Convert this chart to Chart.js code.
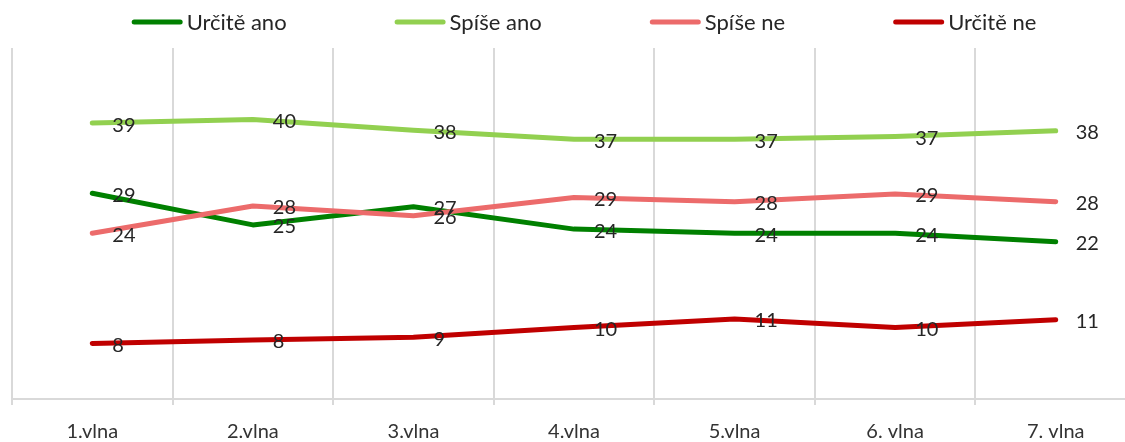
<!DOCTYPE html>
<html>
<head>
<meta charset="utf-8">
<script src="https://cdn.jsdelivr.net/npm/chart.js@4"></script>
<style>
  html, body { margin: 0; padding: 0; background: #fff; overflow: hidden; }
  /* canvas is a bit bigger than the window; excel crop cuts the last column */
  #wrap { position: relative; width: 1136px; height: 459px; }
</style>
</head>
<body>
<div id="wrap"><canvas id="chart"></canvas></div>
<script>
// ---------- Data ----------
const categories = ["1.vlna", "2.vlna", "3.vlna", "4.vlna", "5.vlna", "6. vlna", "7. vlna"];
const seriesNames = ["Určitě ano", "Spíše ano", "Spíše ne", "Určitě ne"];
const urciteAno = [29.3, 24.8, 27.4, 24.2, 23.6, 23.6, 22.4];
const spiseAno  = [39.3, 39.8, 38.3, 37.0, 37.0, 37.4, 38.2];
const spiseNe   = [23.6, 27.5, 26.1, 28.7, 28.1, 29.2, 28.1];
const urciteNe  = [7.9, 8.4, 8.8, 10.2, 11.4, 10.2, 11.3];
const colors = ["#008000", "#92d050", "#ec6b6b", "#c00000"];

const FONT = "Lato";

function makeSet(i, values) {
  return {
    label: seriesNames[i],
    data: values,
    borderColor: colors[i],
    backgroundColor: colors[i],
    borderWidth: 5,
    borderCapStyle: "round",
    borderJoinStyle: "round",
    pointRadius: 0,
    tension: 0,
    fill: false,
    order: 4 - i // later series on top, like excel
  };
}

// value labels right of every point
const valueLabels = {
  id: "valueLabels",
  afterDatasetsDraw(chart) {
    const ctx = chart.ctx;
    ctx.save();
    ctx.font = "20px " + FONT;
    ctx.fillStyle = "#262626";
    ctx.textAlign = "left";
    ctx.textBaseline = "middle";
    chart.data.datasets.forEach((ds, i) => {
      const meta = chart.getDatasetMeta(i);
      meta.data.forEach((pt, j) => {
        ctx.fillText(String(Math.round(ds.data[j])), pt.x + 20, pt.y + 2);
      });
    });
    ctx.restore();
  }
};

// excel-like legend: short thick line + text, wide gaps
const lineLegend = {
  id: "lineLegend",
  afterDraw(chart) {
    const ctx = chart.ctx;
    const lineLen = 51, textGap = 4, itemGap = 108;
    ctx.save();
    ctx.font = "22px " + FONT;
    ctx.textBaseline = "middle";
    ctx.textAlign = "left";
    const widths = chart.data.datasets.map(ds => ctx.measureText(ds.label).width);
    let total = 0;
    widths.forEach((w, i) => {
      total += lineLen + textGap + w + (i < widths.length - 1 ? itemGap : 0);
    });
    let x = 584 - total / 2;
    const y = 22;
    chart.data.datasets.forEach((ds, i) => {
      ctx.strokeStyle = ds.borderColor;
      ctx.lineWidth = 5;
      ctx.lineCap = "round";
      ctx.beginPath();
      ctx.moveTo(x + 2.5, y);
      ctx.lineTo(x + lineLen - 2.5, y);
      ctx.stroke();
      ctx.fillStyle = "#262626";
      ctx.fillText(ds.label, x + lineLen + textGap, y + 1);
      x += lineLen + textGap + widths[i] + itemGap;
    });
    ctx.restore();
  }
};

new Chart(document.getElementById("chart"), {
  type: "line",
  data: {
    labels: categories,
    datasets: [
      makeSet(0, urciteAno),
      makeSet(1, spiseAno),
      makeSet(2, spiseNe),
      makeSet(3, urciteNe)
    ]
  },
  options: {
    responsive: true,
    maintainAspectRatio: false,
    animation: false,
    layout: { padding: { left: 12, right: 0, top: 48, bottom: 0 } },
    plugins: {
      legend: { display: false },
      tooltip: { enabled: false }
    },
    scales: {
      x: {
        offset: true,
        grid: {
          offset: true,
          color: "#d9d9d9",
          lineWidth: 2,
          drawTicks: true,
          tickLength: 6
        },
        border: { color: "#d9d9d9", width: 2 },
        ticks: {
          color: "#333333",
          font: { family: FONT, size: 20 },
          padding: 15,
          maxRotation: 0,
          autoSkip: false
        }
      },
      y: {
        display: false,
        min: 0,
        max: 50
      }
    }
  },
  plugins: [valueLabels, lineLegend]
});
</script>
</body>
</html>
